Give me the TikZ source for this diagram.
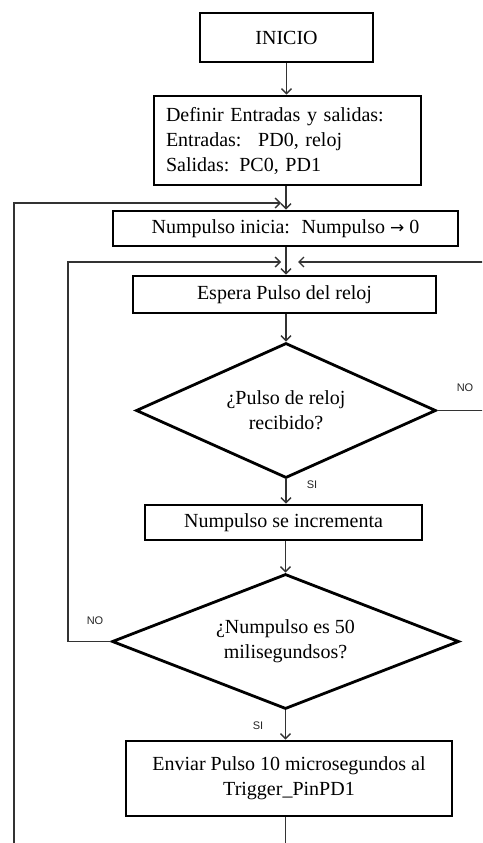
\documentclass[tikz,border=0pt]{standalone}
\usepackage{fontspec}
\setmainfont{Liberation Serif}
\newfontfamily\lblfont{Liberation Sans}
\newfontfamily\symfont{DejaVu Sans}
\usetikzlibrary{shapes.geometric,arrows.meta}
\begin{document}
\begin{tikzpicture}[x=1pt,y=-1pt,
  box/.style={draw=black,line width=2.8pt,rectangle,inner sep=0pt,font=\fontsize{20}{25}\selectfont,align=center},
  dec/.style={draw=black,line width=2.8pt,diamond,inner sep=0pt,font=\fontsize{20}{25}\selectfont,align=center},
  conn/.style={draw=black!80,line width=1.4pt},
  arr/.style={conn,-{Straight Barb[length=5pt,width=10pt,line width=1.4pt]}},
  lbl/.style={font=\lblfont\fontsize{11}{12}\selectfont,text=black!85,inner sep=0pt}]
\useasboundingbox (0,0) rectangle (482,843);
\clip (0,0) rectangle (482,843);
\fill[white] (0,0) rectangle (482,843);

\node[box,minimum width=173pt,minimum height=49pt] (inicio) at (286.5,37.5) {INICIO};
\node[box,minimum width=267pt,minimum height=89pt,align=left,text width=243pt] (definir) at (287.5,140.5) {Definir Entradas y salidas:\\Entradas:~ PD0, reloj\\Salidas: PC0, PD1};
\node[box,minimum width=345pt,minimum height=35pt] (inicia) at (285.5,228.5) {Numpulso inicia:~ Numpulso {\symfont\fontsize{17}{20}\selectfont →} 0};
\node[box,minimum width=303pt,minimum height=37pt] (espera) at (284.5,294.5) {Espera Pulso del reloj};
\node[dec,minimum width=300pt,minimum height=135pt,aspect=2.2] (d1) at (286,410.5) {¿Pulso de reloj\\recibido?};
\node[box,minimum width=277pt,minimum height=35pt] (incr) at (283.5,522.5) {Numpulso se incrementa};
\node[dec,minimum width=347pt,minimum height=135pt,aspect=2.5] (d2) at (285.5,641.5) {¿Numpulso es 50\\milisegundsos?};
\node[box,minimum width=326pt,minimum height=75pt] (enviar) at (289,778.5) {Enviar Pulso 10 microsegundos al\\Trigger\_PinPD1};

\node[lbl] (no1) at (465,388) {NO};
\node[lbl] (si1) at (312,485) {SI};
\node[lbl] (no2) at (95,621) {NO};
\node[lbl] (si2) at (258,726) {SI};

\coordinate (cx) at (286,0);
\coordinate (j1) at (281,203);
\coordinate (j2) at (281,262);
\coordinate (j3) at (298,262);
\coordinate (ob) at (14,870);
\coordinate (ot) at (14,203);
\coordinate (rt) at (495,262);
\coordinate (lt) at (68,262);

\draw[arr] (inicio.south) -- (inicio.south |- definir.north);
\draw[arr] (definir.south -| cx) -- (inicia.north -| cx);
\draw[arr] (inicia.south -| cx) -- (espera.north -| cx);
\draw[arr] (espera.south -| d1.north) -- (d1.north);
\draw[arr] (d1.south) -- (d1.south |- incr.north);
\draw[arr] (incr.south -| d2.north) -- (d2.north);
\draw[arr] (d2.south) -- (d2.south |- enviar.north);

\draw[arr] (enviar.south -| d2.south) -- (d2.south |- ob) -- (ob) -- (ot) -- (j1);
\draw[arr] (d1.east) -- (d1.east -| rt) -- (rt) -- (j3);
\draw[arr] (d2.west) -- (d2.west -| lt) -- (lt) -- (j2);
\end{tikzpicture}
\end{document}
